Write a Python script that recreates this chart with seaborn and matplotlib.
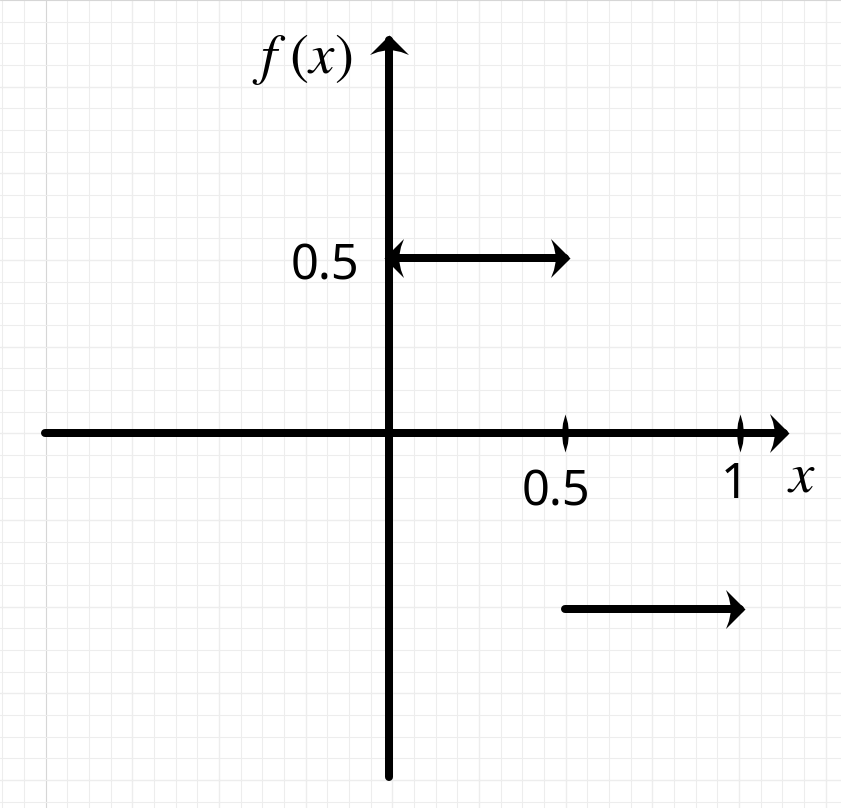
import numpy as np
import seaborn as sns
import matplotlib.pyplot as plt
from matplotlib.path import Path

# chart values
x_axis_range = [-0.98, 1.125]
y_axis_range = [-0.98, 1.12]
x_ticks = [0.5, 1]
x_tick_labels = ['0.5', '1']
y_ticks = [0.5]
y_tick_labels = ['0.5']
step_x = [[0, 0.5], [0.5, 1]]
step_y = [[0.5, 0.5], [-0.5, -0.5]]
step_left_arrow = [True, False]

# layout in pixels (841x808 canvas, 351 px per unit)
W, H = 841, 808
PX = 351.0
X0, Y0 = 389.0, 433.3
pt = 0.72  # px -> pt at dpi 100

sns.set_style('white')
plt.rcParams['font.family'] = ['Noto Sans', 'DejaVu Sans']
plt.rcParams['mathtext.fontset'] = 'stix'
plt.rcParams['text.color'] = 'black'

fig = plt.figure(figsize=(W / 100, H / 100), dpi=100)
ax = fig.add_axes([0, 0, 1, 1])
ax.set_xlim(-X0 / PX, (W - X0) / PX)
ax.set_ylim((Y0 - H) / PX, Y0 / PX)

# graph paper background
ax.set_xticks((45.67 + 86.67 * np.arange(10) - X0) / PX)
ax.set_xticks((2.33 + 21.67 * np.arange(39) - X0) / PX, minor=True)
ax.set_yticks((Y0 - 86.67 * np.arange(10)) / PX)
ax.set_yticks((Y0 - 21.67 * np.arange(38)) / PX, minor=True)
ax.grid(True, which='major', color='#d6d6d6', lw=0.8)
ax.grid(True, which='minor', color='#ededed', lw=0.8)
ax.tick_params(which='both', length=0, labelbottom=False, labelleft=False)
for s in ax.spines.values():
    s.set_visible(False)
ax.set_axisbelow(True)


def arrow_marker(deg):
    pts = np.array([(5, 0), (-14.5, 19.5), (-11.5, 11.5), (-10, 4), (-9.5, 0),
                    (-10, -4), (-11.5, -11.5), (-14.5, -19.5), (5, 0)], float)
    t = np.deg2rad(deg)
    rot = np.array([[np.cos(t), -np.sin(t)], [np.sin(t), np.cos(t)]])
    return Path(pts @ rot.T, closed=True)


lens = Path(np.array([(0, 19), (2.5, 10), (3.5, 0), (2.5, -10), (0, -19),
                      (-2.5, -10), (-3.5, 0), (-2.5, 10), (0, 19)], float), closed=True)

lw = 8 * pt
arrow_ms = 2 * 19.5 * pt
kw = dict(color='black', lw=lw, solid_capstyle='round', estimator=None,
          sort=False, legend=False, ax=ax)

# axes
sns.lineplot(x=x_axis_range, y=[0, 0], **kw)
sns.lineplot(x=[0, 0], y=y_axis_range, **kw)
ax.plot([x_axis_range[1]], [0], marker=arrow_marker(0), ms=arrow_ms, mew=0, color='black', ls='none')
ax.plot([0], [y_axis_range[1]], marker=arrow_marker(90), ms=arrow_ms, mew=0, color='black', ls='none')
ax.plot(x_ticks, [0] * len(x_ticks), marker=lens, ms=38 * pt, mew=0, color='black', ls='none', zorder=5)

# step segments
for xs, ys, left in zip(step_x, step_y, step_left_arrow):
    sns.lineplot(x=xs, y=ys, **kw)
    ax.plot([xs[1]], [ys[1]], marker=arrow_marker(0), ms=arrow_ms, mew=0, color='black', ls='none', zorder=5)
    if left:
        ax.plot([xs[0]], [ys[0]], marker=arrow_marker(180), ms=arrow_ms, mew=0, color='black', ls='none', zorder=5)

# labels
fs = 35
x_label_offsets = [(-9, -71.7), (-5, -65)]
for v, lab, (dx, dy) in zip(x_ticks, x_tick_labels, x_label_offsets):
    ax.annotate(lab, xy=(v, 0), xytext=(dx * pt, dy * pt), textcoords='offset points',
                ha='center', va='baseline', fontsize=fs)
for v, lab in zip(y_ticks, y_tick_labels):
    ax.annotate(lab, xy=(0, v), xytext=(-30 * pt, -21.7 * pt), textcoords='offset points',
                ha='right', va='baseline', fontsize=fs)

ax.annotate('$x$', xy=(1, 0), xytext=(62 * pt, -58.7 * pt), textcoords='offset points',
            ha='center', va='baseline', fontsize=41)
ax.annotate(r'$f\,\,(x)$', xy=(0, 1), xytext=(-37 * pt, 9.3 * pt), textcoords='offset points',
            ha='right', va='baseline', fontsize=41)

fig.savefig('out.png', dpi=100)
